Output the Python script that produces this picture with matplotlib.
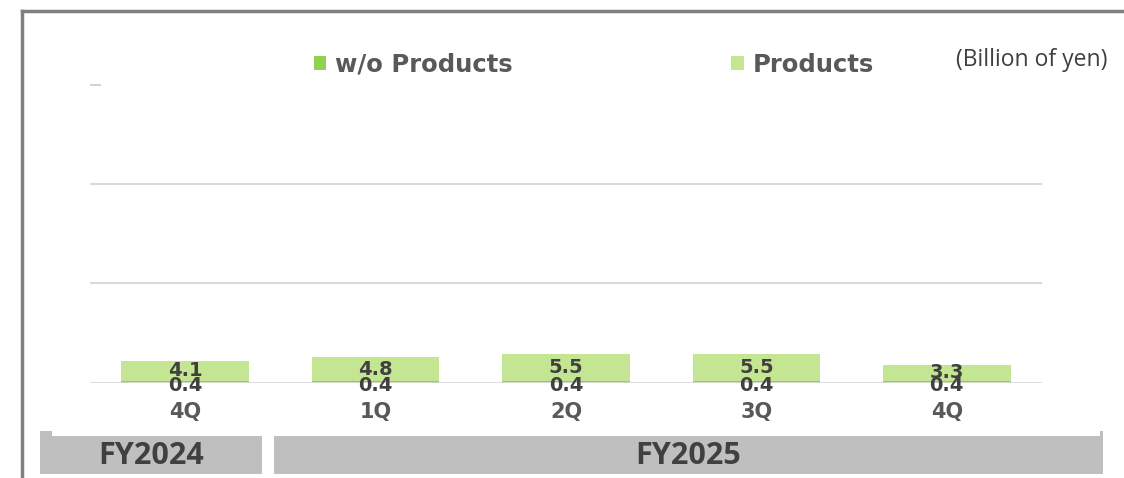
import matplotlib.pyplot as plt
from matplotlib.patches import Rectangle
import numpy as np

quarters = ["4Q", "1Q", "2Q", "3Q", "4Q"]
wo_products = [0.4, 0.4, 0.4, 0.4, 0.4]
products = [4.1, 4.8, 5.5, 5.5, 3.3]
fiscal_years = ["FY2024", "FY2025"]
fy_spans = [(40, 262), (274, 1103)]  # pixel extents of the year bands

W, H = 1124, 478
plt.rcParams['font.family'] = ['DejaVu Sans']

fig = plt.figure(figsize=(W / 100, H / 100), dpi=100)
ax = fig.add_axes([90 / W, (H - 383) / H, 952 / W, 299 / H])

x = np.arange(len(quarters))
ax.bar(x, wo_products, width=0.67, color="#92D050", zorder=2, label="w/o Products")
ax.bar(x, products, width=0.67, bottom=wo_products, color="#C4E693", zorder=2, label="Products")

for xi, a, b in zip(x, wo_products, products):
    ax.text(xi, a / 2 - 0.7, f"{a:.1f}", ha="center", va="center",
            fontsize=14, fontweight="bold", color="#404040", zorder=4)
    ax.text(xi, a + b / 2, f"{b:.1f}", ha="center", va="center",
            fontsize=14, fontweight="bold", color="#404040", zorder=4)

for y in [20, 40]:
    ax.axhline(y, color="#D9D9D9", lw=1.5, zorder=1)
ax.axhline(60, xmax=0.009, color="#D0D0D0", lw=2, zorder=1)
ax.axhline(0, color="#D9D9D9", lw=2, zorder=3)

ax.set_xlim(-0.5, len(quarters) - 0.5)
ax.set_ylim(0, 60)
ax.set_yticks([])
ax.set_xticks(x)
ax.set_xticklabels(quarters, fontsize=15, fontweight="bold", color="#595959")
ax.tick_params(axis="x", length=0, pad=14)
for s in ax.spines.values():
    s.set_visible(False)

leg = ax.legend(loc="center left", bbox_to_anchor=(0.225, 1.065), ncol=2,
                frameon=False, fontsize=17.5, handlelength=0.5, handleheight=0.5,
                handletextpad=0.37, columnspacing=9.0, borderaxespad=0)
for t in leg.get_texts():
    t.set_fontweight("bold")
    t.set_color("#595959")

fig.text(1108 / W, (H - 60) / H, "(Billion of yen)", ha="right", va="center",
         fontsize=16.5, color="#404040", family="Open Sans")

# year bands under the quarter labels
for label, (x0, x1) in zip(fiscal_years, fy_spans):
    fig.add_artist(Rectangle((x0 / W, (H - 474) / H), (x1 - x0) / W, 38 / H,
                             transform=fig.transFigure, color="#BFBFBF", lw=0))
    fig.text((x0 + x1) / 2 / W, (H - 456) / H, label, ha="center", va="center",
             fontsize=22, fontweight="bold", color="#404040", family="Open Sans")
fig.add_artist(Rectangle((40 / W, (H - 436) / H), 12 / W, 5 / H,
                         transform=fig.transFigure, color="#BFBFBF", lw=0))
fig.add_artist(Rectangle((1100 / W, (H - 436) / H), 3 / W, 5 / H,
                         transform=fig.transFigure, color="#BFBFBF", lw=0))

# outer frame, top and left edges
fig.add_artist(plt.Line2D([21.5 / W, 1], [(H - 10.5) / H] * 2, transform=fig.transFigure,
                          color="#808080", lw=2.5))
fig.add_artist(plt.Line2D([21.5 / W] * 2, [0, (H - 10.5) / H], transform=fig.transFigure,
                          color="#808080", lw=2.5))

fig.savefig("out.png", dpi=100)
